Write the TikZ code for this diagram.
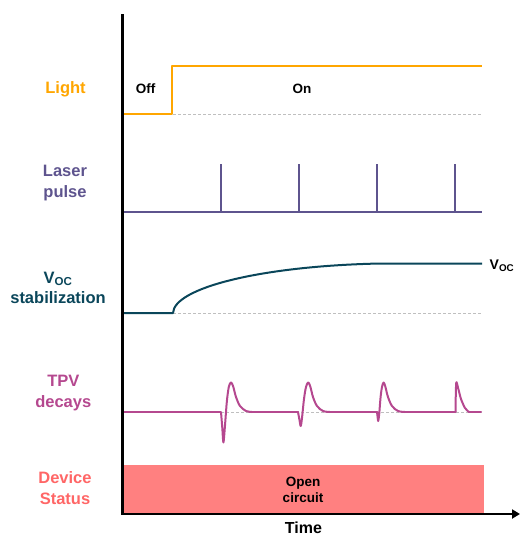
\documentclass[tikz,border=0pt]{standalone}
\usepackage{fontspec}
\setmainfont{Liberation Sans}
\usetikzlibrary{arrows.meta}
\definecolor{cLight}{RGB}{255,166,0}
\definecolor{cLaser}{RGB}{94,84,142}
\definecolor{cVoc}{RGB}{10,70,90}
\definecolor{cTPV}{RGB}{181,72,143}
\definecolor{cDev}{RGB}{255,102,102}
\definecolor{cBox}{RGB}{255,128,128}
\tikzset{
  lbl/.style={align=center, font=\bfseries\fontsize{16.5}{20.5}\selectfont, inner sep=0pt},
  small/.style={font=\bfseries\fontsize{13.5}{16}\selectfont, inner sep=0pt, align=center},
  trace/.style={line width=2pt, line join=round, line cap=round},
  guide/.style={gray!50, line width=0.7pt, dash pattern=on 3pt off 2pt},
  axis/.style={line width=2.6pt, black}
}
\begin{document}
\begin{tikzpicture}[x=1pt,y=-1pt]
\useasboundingbox (0,0) rectangle (520,536);
% device status box
\fill[cBox] (124,465) rectangle (484,514);
\node[small] (open) at (303,489.5) {Open\\circuit};
% guide lines
\draw[guide] (173,114.3) -- (482,114.3);
\draw[guide] (173,313) -- (482,313);
\draw[guide] (221,412) -- (482,412);
% light
\draw[trace, cLight, line cap=butt] (124,114.3) -- (172.3,114.3) -- (172.3,65.7) -- (482,65.7);
\node[small] (off) at (145.5,89) {Off};
\node[small] (on) at (302,89) {On};
% laser pulses
\draw[trace, cLaser, line cap=butt] (124,212) -- (482,212);
\foreach \px in {220.7,299,377,455}
  \draw[line width=2pt, cLaser] (\px,212) -- (\px,164);
% Voc
\draw[trace, cVoc, line cap=butt] (124,313) -- (173,313) .. controls (174,288) and (260,266) .. (380,263.5) -- (482,263.5);
\node[inner sep=0pt, font=\bfseries\fontsize{14}{16}\selectfont] (vocr) at (502,266) {V\textsubscript{OC}};
% TPV
\draw[trace, cTPV, line cap=butt] (124,412) -- (221,412);
\draw[trace, cTPV] plot[smooth, tension=0.55] coordinates {(221,412) (222.3,428) (223.4,442.5) (224.8,428) (226.8,402) (228.8,387) (231,382.5) (233.2,386.5) (236,397) (240,406) (246,411) (252,412)};
\draw[trace, cTPV] (252,412) -- (298,412);
\draw[trace, cTPV] plot[smooth, tension=0.55] coordinates {(298,412) (299.5,420) (300.7,426) (302,418) (304,399) (306,387) (308.2,382.5) (310.3,386.5) (313,397) (317,406) (323,411) (330,412)};
\draw[trace, cTPV] (330,412) -- (377,412);
\draw[trace, cTPV] plot[smooth, tension=0.55] coordinates {(377,412) (377.6,417) (378.2,421) (379.2,414) (380.6,397) (382,387) (383.6,382.5) (385.3,386.5) (388,397) (392,406) (398,411) (405,412)};
\draw[trace, cTPV] (405,412) -- (455.5,412);
\draw[trace, cTPV] plot[smooth, tension=0.5] coordinates {(455.5,412) (456.2,383) (458.2,388.5) (461,399) (465,408) (469,412)};
\draw[trace, cTPV] (469,412) -- (481,412);
% axes
\coordinate (top) at (122.5,14);
\coordinate (origin) at (122.5,514);
\coordinate (tend) at (520,514);
\draw[axis] (top) -- (origin);
\draw[axis, -{Triangle[length=8pt,width=9pt]}] ([xshift=-1.3pt]origin) -- (tend);
\node[lbl, font=\bfseries\fontsize{16}{18}\selectfont] (time) at (303.5,528) {Time};
% left labels
\node[lbl, text=cLight] (light) at (65.5,89) {Light};
\node[lbl, text=cLaser] (laser) at (65,183) {Laser\\pulse};
\node[lbl, text=cVoc] (voc) at (58,288) {V\textsubscript{OC}\\stabilization};
\node[lbl, text=cTPV] (tpv) at (63.3,393) {TPV\\decays};
\node[lbl, text=cDev] (dev) at (65,488) {Device\\Status};
\end{tikzpicture}
\end{document}
